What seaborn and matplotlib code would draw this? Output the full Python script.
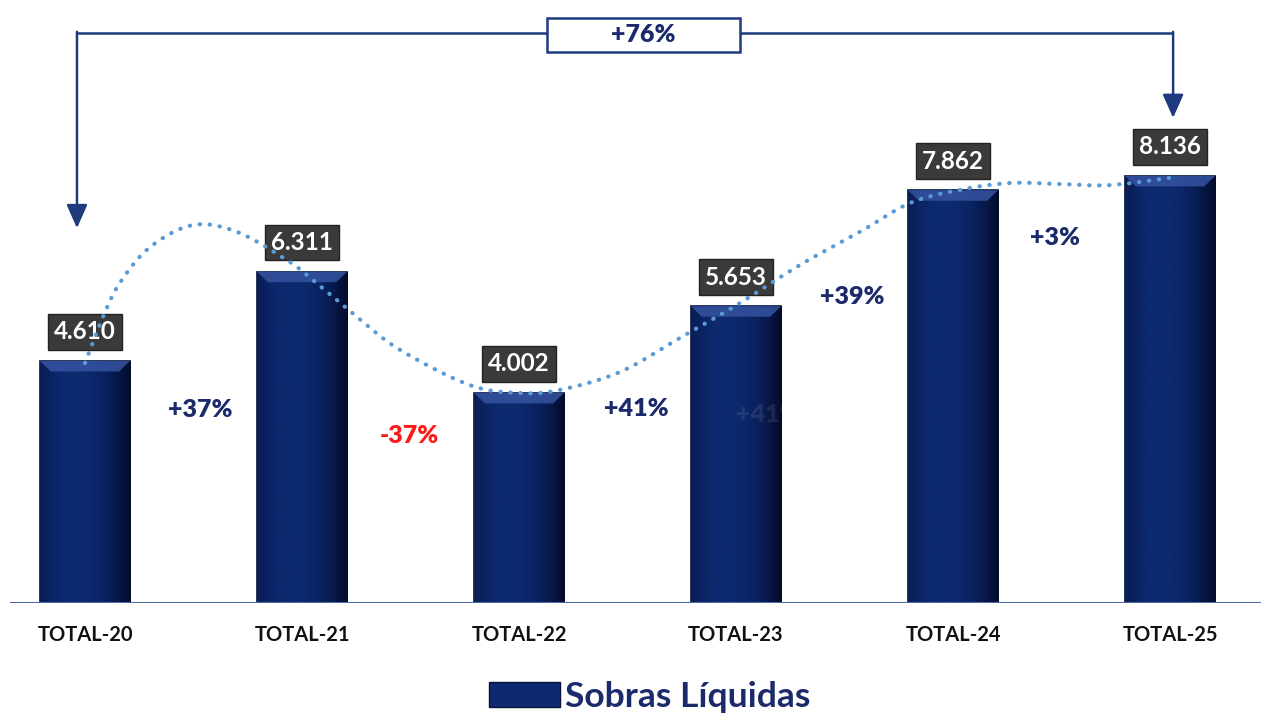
import numpy as np
import pandas as pd
import matplotlib
matplotlib.use("Agg")
import matplotlib.pyplot as plt
import seaborn as sns
from matplotlib.patches import Rectangle, Polygon, Patch
from matplotlib.colors import LinearSegmentedColormap

# ---------------- data ----------------
categories = ["TOTAL-20", "TOTAL-21", "TOTAL-22", "TOTAL-23", "TOTAL-24", "TOTAL-25"]
values = [4.610, 6.311, 4.002, 5.653, 7.862, 8.136]
value_labels = ["4.610", "6.311", "4.002", "5.653", "7.862", "8.136"]
change_labels = ["+37%", "-37%", "+41%", "+39%", "+3%"]
change_colors = ["#1b2a6b", "#ff1a1a", "#1b2a6b", "#1b2a6b", "#1b2a6b"]
total_change_label = "+76%"
legend_label = "Sobras Líquidas"
# dotted trend curve (category position, value)
trend_x = [0.000, 0.083, 0.161, 0.300, 0.498, 0.700, 0.931, 1.051, 1.253, 1.452,
           1.774, 2.005, 2.189, 2.465, 2.742, 3.005, 3.295, 3.571, 3.802, 4.032,
           4.263, 4.493, 4.724, 5.000]
trend_y = [4.57, 5.45, 6.10, 6.78, 7.20, 7.07, 6.53, 6.15, 5.45, 4.82,
           4.15, 4.00, 4.06, 4.40, 5.05, 5.68, 6.44, 7.07, 7.62, 7.87,
           8.00, 7.98, 7.96, 8.10]

# ---------------- layout / style ----------------
change_pos = [(0.53, 3.68), (1.493, 3.18), (2.539, 3.70), (3.535, 5.83), (4.47, 6.95)]
BAR = "#0b2363"
NAVY = "#1b2a6b"
ARROW = "#1f3b7d"

sns.set_theme(style="white")
plt.rcParams["font.family"] = ["Lato", "DejaVu Sans"]

fig = plt.figure(figsize=(12.61, 7.13), dpi=100)
ax = fig.add_axes([10 / 1261, 110 / 713, 1251 / 1261, 603 / 713])

df = pd.DataFrame({"cat": categories, "val": values})
sns.barplot(data=df, x="cat", y="val", color=BAR, width=0.415, saturation=1,
            edgecolor="#06133a", linewidth=1.2, ax=ax, zorder=2)

# bevel / gradient on each bar (geometry taken from the bar patches)
cmap = LinearSegmentedColormap.from_list("bev", ["#0a1d55", "#0d2a70", "#0d2a70", "#0a205c", "#030b2a"])
grad = np.linspace(0, 1, 256).reshape(1, -1)
for p in ax.patches:
    x0, y0 = p.get_x(), p.get_y()
    w, h = p.get_width(), p.get_height()
    im = ax.imshow(grad, extent=[x0, x0 + w, y0, y0 + h], cmap=cmap,
                   aspect="auto", zorder=2.1)
    im.set_clip_path(p)
    bh = 0.2
    bi = 0.05
    top = y0 + h
    bev = Polygon([[x0, top], [x0 + w, top], [x0 + w - bi, top - bh], [x0 + bi, top - bh]],
                  closed=True, fc="#3553a0", ec="none", alpha=0.85, zorder=2.2)
    ax.add_patch(bev)

# value labels
for i, (v, t) in enumerate(zip(values, value_labels)):
    ax.annotate(t, xy=(i, v), xytext=(0, 21), textcoords="offset points",
                ha="center", va="center", color="white", fontsize=17.5, fontweight="bold",
                bbox=dict(boxstyle="square,pad=0.26", fc="#3a3a3a", ec="#222222", lw=1),
                zorder=4)

# change labels
for (px, py), t, c in zip(change_pos, change_labels, change_colors):
    ax.text(px, py, t, ha="center", va="center", color=c, fontsize=18,
            fontweight="heavy", zorder=4)
# faint ghost label seen inside the TOTAL-23 bar
ax.text(3.147, 3.58, change_labels[2], ha="center", va="center", color="white",
        alpha=0.09, fontsize=18, fontweight="heavy", zorder=3)

# dotted trend curve (Catmull-Rom smoothing through points)
def catmull(xs, ys, n=20):
    P = np.column_stack([xs, ys])
    P = np.vstack([P[0], P, P[-1]])
    out = []
    for k in range(1, len(P) - 2):
        p0, p1, p2, p3 = P[k - 1], P[k], P[k + 1], P[k + 2]
        for t in np.linspace(0, 1, n, endpoint=False):
            t2, t3 = t * t, t * t * t
            out.append(0.5 * ((2 * p1) + (-p0 + p2) * t + (2 * p0 - 5 * p1 + 4 * p2 - p3) * t2
                              + (-p0 + 3 * p1 - 3 * p2 + p3) * t3))
    out.append(P[-2])
    out = np.array(out)
    return out[:, 0], out[:, 1]

cx, cy = catmull(trend_x, trend_y)
ax.plot(cx, cy, color="#5b9bd5", lw=3, linestyle=(0, (0.1, 2.3)),
        dash_capstyle="round", zorder=6)

# baseline
ax.axhline(0, color="#4a6aa8", lw=2.2, zorder=3)

# +76% connector
top_y = 10.86
lx, rx = -0.037, 5.014
ax.plot([lx, rx], [top_y, top_y], color=ARROW, lw=1.8, solid_capstyle="butt", zorder=5)
ax.annotate("", xy=(lx, 7.14), xytext=(lx, top_y + 0.02),
            arrowprops=dict(arrowstyle="-|>,head_length=0.9,head_width=0.4", color=ARROW,
                            lw=1.8, mutation_scale=16, shrinkA=0, shrinkB=0), zorder=5)
ax.annotate("", xy=(rx, 9.24), xytext=(rx, top_y + 0.02),
            arrowprops=dict(arrowstyle="-|>,head_length=0.9,head_width=0.4", color=ARROW,
                            lw=1.8, mutation_scale=16, shrinkA=0, shrinkB=0), zorder=5)
ax.add_patch(Rectangle((2.129, 10.50), 0.889, 0.64, fc="white", ec=ARROW, lw=1.8, zorder=6))
ax.text(2.129 + 0.889 / 2, 10.82, total_change_label, ha="center", va="center",
        color=NAVY, fontsize=18, fontweight="heavy", zorder=7)

# axes cosmetics
ax.set_xlim(-0.3456, 5.419)
ax.set_ylim(0, 11.486)
ax.set_xlabel("")
ax.set_ylabel("")
ax.set_yticks([])
for s in ax.spines.values():
    s.set_visible(False)
ax.tick_params(axis="x", length=0, pad=16)
for lab in ax.get_xticklabels():
    lab.set_fontsize(14.5)
    lab.set_fontweight("bold")
    lab.set_color("#111111")

# legend
handle = Patch(facecolor="#0d2a70", edgecolor="#06133a", label=legend_label)
leg = fig.legend(handles=[handle], loc="center", bbox_to_anchor=(650 / 1261, 1 - 697 / 713),
                 frameon=False, fontsize=25.5, handlelength=2.0, handleheight=0.7,
                 handletextpad=0.15, borderpad=0)
for t in leg.get_texts():
    t.set_color(NAVY)
    t.set_fontweight("bold")

fig.savefig("out.png", dpi=100)
